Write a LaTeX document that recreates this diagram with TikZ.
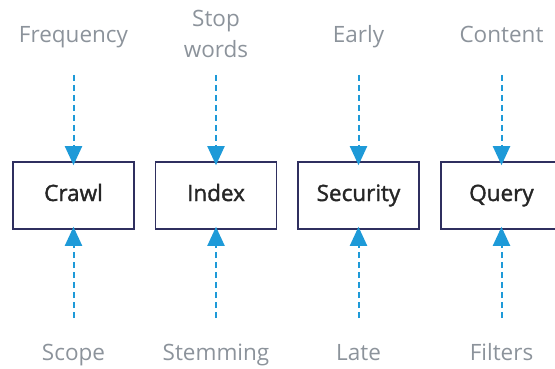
\documentclass[tikz,border=0pt]{standalone}
\usepackage{fontspec}
\setmainfont{Open Sans}
\newfontfamily\stagefont[FakeBold=1.6]{Open Sans}
\usetikzlibrary{arrows.meta}
\definecolor{boxline}{HTML}{2F2F5F}
\definecolor{labelgray}{HTML}{8C939B}
\definecolor{arrowblue}{HTML}{1E9AD8}
\tikzset{
  stage/.style={draw=boxline, line width=1.6pt, minimum width=121pt, minimum height=67pt,
    text=black!85, text height=16pt, text depth=5pt, font=\stagefont\fontsize{22.5}{26}\selectfont},
  factor/.style={text=labelgray, anchor=base, font=\fontsize{22.5}{31}\selectfont, align=center},
  feed/.style={arrowblue, line width=2pt, dash pattern=on 6pt off 4pt, -{Triangle[width=17pt,length=19pt]}}
}
\begin{document}
\begin{tikzpicture}[x=1pt,y=-1pt]
  \useasboundingbox (0,0) rectangle (555,369);
  % stages
  \node[stage] (crawl) at (73.5,195.5) {Crawl};
  \node[stage] (index) at (216,195.5) {Index};
  \node[stage] (security) at (358.5,195.5) {Security};
  \node[stage] (query) at (501.5,195.5) {Query};
  % factors above
  \node[factor] (freq) at (73.5,43) {Frequency};
  \node[factor] (stop) at (216,58) {Stop\\words};
  \node[factor] (early) at (358.5,43) {Early};
  \node[factor] (content) at (501.5,43) {Content};
  % factors below
  \node[factor] (scope) at (73.5,360) {Scope};
  \node[factor] (stem) at (216,360) {Stemming};
  \node[factor] (late) at (358.5,360) {Late};
  \node[factor] (filters) at (501.5,360) {Filters};
  \coordinate (topline) at (0,75);
  \coordinate (botline) at (0,318);
  % arrows
  \foreach \a/\b in {freq/crawl, stop/index, early/security, content/query}
    \draw[feed] (\b |- topline) -- ([yshift=-4pt]\b.north);
  \foreach \a/\b in {scope/crawl, stem/index, late/security, filters/query}
    \draw[feed] (\b |- botline) -- ([yshift=3pt]\b.south);
\end{tikzpicture}
\end{document}
